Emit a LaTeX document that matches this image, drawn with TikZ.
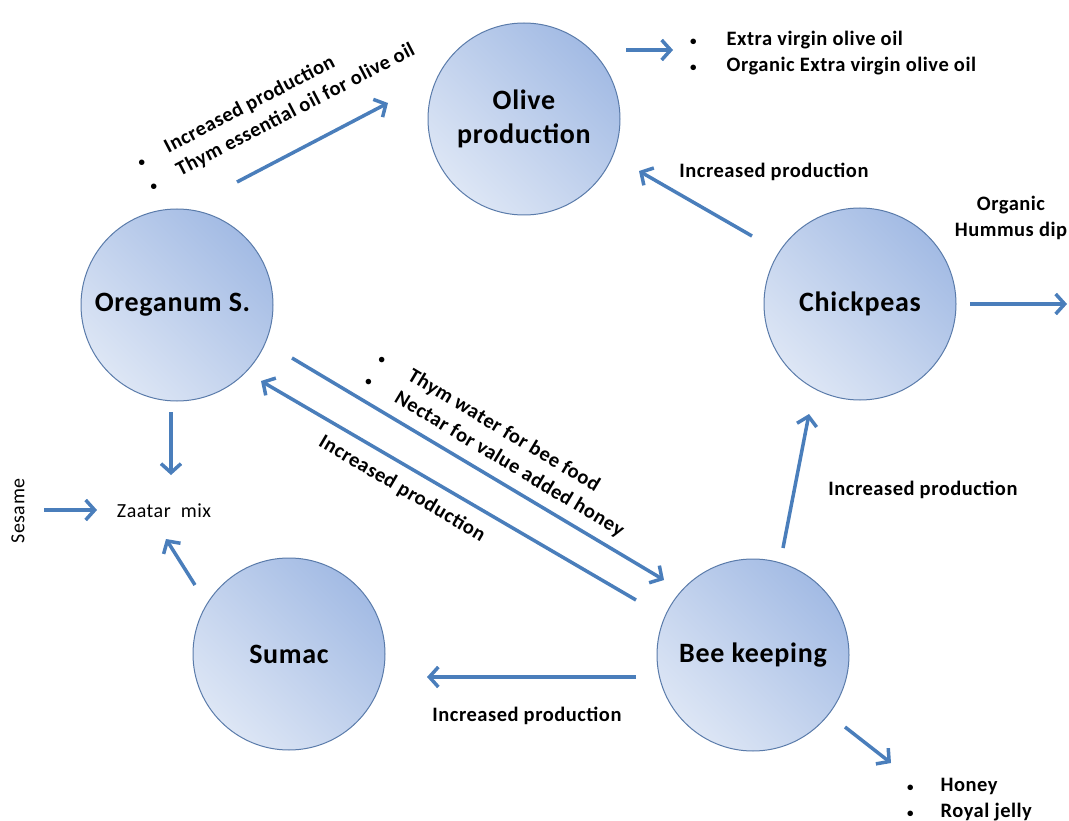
\documentclass[tikz,border=0pt]{standalone}
\usepackage{fontspec}
\setmainfont{Carlito}[LetterSpace=2.5]
\usetikzlibrary{arrows.meta}
\definecolor{flowblue}{HTML}{4A7EBB}
\definecolor{cropLight}{HTML}{DDE6F5}
\definecolor{cropDark}{HTML}{A3BBE4}
\definecolor{cropLine}{HTML}{5A7BAA}
\newcommand{\dotmark}{{\fontsize{13}{13}\selectfont\textbullet}}
\tikzset{
  crop/.style={circle, minimum size=192pt, inner sep=0pt, draw=cropLine, line width=1pt,
    top color=cropDark, bottom color=cropLight, shading angle=-45,
    font=\fontsize{28}{34}\selectfont\bfseries, align=center},
  flow/.style={line width=3.5pt, draw=flowblue, -{Straight Barb[length=9pt,width=20pt]}},
  lbl/.style={font=\fontsize{20.5}{26}\selectfont\bfseries},
  plain/.style={font=\fontsize{20}{26}\selectfont},
}
\begin{document}
\begin{tikzpicture}[x=1pt,y=-1pt]
\useasboundingbox (0,0) rectangle (1069,821);
% circles
\node[crop] (olive) at (524,119) {Olive\\production};
\node[crop] (oreganum) at (177,305) {\hspace*{-9pt}Oreganum S.};
\node[crop] (chickpeas) at (860,304) {Chickpeas};
\node[crop] (sumac) at (289,654) {Sumac};
\node[crop] (bee) at (753,655) {Bee keeping};

% texts
\node[lbl, anchor=west, inner sep=0pt] (oilist) at (690,53)
  {\begin{tabular}{@{}l@{\hspace{30pt}}l@{}}\dotmark & Extra virgin olive oil\\ \dotmark & Organic Extra virgin olive oil\end{tabular}};
\node[lbl, anchor=west, inner sep=0pt] (honeylist) at (907,799)
  {\begin{tabular}{@{}l@{\hspace{27pt}}l@{}}\dotmark & Honey\\ \dotmark & Royal jelly\end{tabular}};
\node[lbl, anchor=west, inner sep=0pt, rotate=27.5] (thymoil) at (144,175)
  {\begin{tabular}{@{}l@{\hspace{25pt}}l@{}}\dotmark & Increased production\\ \dotmark & Thym essential oil for olive oil\end{tabular}};
\node[lbl, anchor=west, inner sep=0pt, rotate=-31] (thymbee) at (373,368)
  {\begin{tabular}{@{}l@{\hspace{28pt}}l@{}}\dotmark & Thym water for bee food\\ \dotmark & Nectar for value added honey\end{tabular}};
\node[lbl, rotate=-30.5] (incoreg) at (402,489) {Increased production};
\node[lbl] (incolive) at (774,172) {Increased production};
\node[lbl] (incchick) at (923,490) {Increased production};
\node[lbl] (incsumac) at (527,716) {Increased production};
\node[lbl, align=center] (hummus) at (1011,218) {Organic\\Hummus dip};
\node[plain] (zaatar) at (164,511) {Zaatar~~mix};
\node[plain, rotate=90] (sesame) at (18,511) {Sesame};

% arrow ends
\coordinate (a1) at (237,182);  \coordinate (b1) at (388,103);
\coordinate (a2) at (626,50);   \coordinate (b2) at (673,50);
\coordinate (a3) at (752,236);  \coordinate (b3) at (639,171);
\coordinate (a4) at (970,304);  \coordinate (b4) at (1067,304);
\coordinate (a5) at (783,548);  \coordinate (b5) at (809,414);
\coordinate (a6) at (292,358);  \coordinate (b6) at (664,580);
\coordinate (a7) at (636,600);  \coordinate (b7) at (261,381);
\coordinate (a8) at (636,677);  \coordinate (b8) at (427,677);
\coordinate (a9) at (845,727);  \coordinate (b9) at (891,763);
\coordinate (a10) at (171,412); \coordinate (b10) at (171,475);
\coordinate (a11) at (44,510);  \coordinate (b11) at (97,510);
\coordinate (a12) at (195,585); \coordinate (b12) at (166,539);

\draw[flow] (a1) -- (b1);
\draw[flow] (a2) -- (b2);
\draw[flow] (a3) -- (b3);
\draw[flow] (a4) -- (b4);
\draw[flow] (a5) -- (b5);
\draw[flow] (a6) -- (b6);
\draw[flow] (a7) -- (b7);
\draw[flow] (a8) -- (b8);
\draw[flow] (a9) -- (b9);
\draw[flow] (a10) -- (b10);
\draw[flow] (a11) -- (b11);
\draw[flow] (a12) -- (b12);
\end{tikzpicture}
\end{document}
